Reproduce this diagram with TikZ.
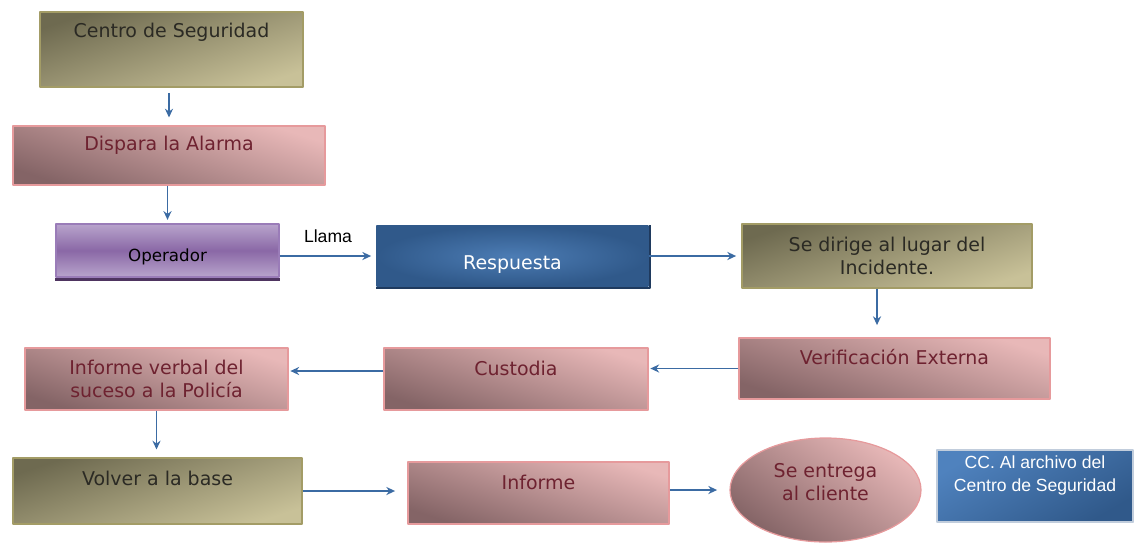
\documentclass[tikz,border=0pt]{standalone}
\usepackage{fontspec}
\setmainfont{DejaVu Sans}
\newfontfamily\arialfont{Liberation Sans}
\usetikzlibrary{shapes.geometric,arrows.meta}
\definecolor{olivedk}{HTML}{6E6A50}
\definecolor{olivelt}{HTML}{C8C198}
\definecolor{oliveln}{HTML}{A39C66}
\definecolor{pinkdk}{HTML}{846466}
\definecolor{pinklt}{HTML}{E8B8B8}
\definecolor{pinkln}{HTML}{E69A9C}
\definecolor{pinktxt}{HTML}{6E2230}
\definecolor{purpdk}{HTML}{8A68A6}
\definecolor{purplt}{HTML}{B8A4CC}
\definecolor{purpln}{HTML}{9A7CB8}
\definecolor{purpsh}{HTML}{4E3460}
\definecolor{bluemid}{HTML}{4C7CB4}
\definecolor{bluedk}{HTML}{30598A}
\definecolor{bluesh}{HTML}{1F3A5E}
\definecolor{bluelt}{HTML}{4F82BE}
\definecolor{arrblue}{HTML}{3B6BA3}
\definecolor{txtdk}{HTML}{2B2A24}
\def\px{0.02cm}
\tikzset{
  olivebox/.style={draw=oliveln, line width=0.7pt, top color=olivedk, bottom color=olivelt, shading angle=18, text=txtdk},
  pinkbox/.style={draw=pinkln, line width=0.7pt, top color=pinklt, bottom color=pinkdk, shading angle=-18, text=pinktxt},
  purplebox/.style={draw=purpln, line width=0.7pt, top color=purplt, bottom color=purplt, middle color=purpdk, text=black},
  bluebox/.style={draw=bluedk, line width=0.7pt, inner color=bluemid, outer color=bluedk, text=white},
  ccbox/.style={draw=white!70!bluedk, line width=0.7pt, top color=bluelt, bottom color=bluedk, shading angle=30, text=white},
  arr/.style={->, arrblue, line width=1.1pt, shorten >=3pt},
}
\begin{document}
\begin{tikzpicture}[x=\px, y=-\px, font=\fontsize{10.8}{13}\selectfont, line join=round, >={Stealth[length=5pt,width=4.6pt]}]
  \useasboundingbox (0,0) rectangle (1141,545);
  % cajas
  \node[olivebox, minimum width=263*\px, minimum height=75*\px] (cs) at (171.5,49.5) {};
  \node[text=txtdk] (cs-t) at (171.5,32) {Centro de Seguridad};
  \node[pinkbox, minimum width=312*\px, minimum height=59*\px] (alarma) at (169,155.5) {};
  \node[text=pinktxt] (alarma-t) at (169,145) {Dispara la Alarma};
  \node[purplebox, minimum width=223*\px, minimum height=53*\px] (oper) at (167.5,250.5) {};
  \draw[purpsh, line width=2pt] ([yshift=-1pt]oper.south west) -- ([yshift=-1pt]oper.south east);
  \node[font=\fontsize{9.5}{12}\selectfont] (oper-t) at (167.5,257) {Operador};
  \node[bluebox, minimum width=271*\px, minimum height=60*\px] (resp) at (512.5,256) {};
  \draw[bluesh, line width=1.5pt] ([xshift=0.8pt]resp.north east) |- ([yshift=-0.8pt]resp.south west);
  \node[text=white] (resp-t) at (512.5,265) {Respuesta};
  \node[olivebox, align=center, minimum width=290*\px, minimum height=64*\px] (lugar) at (887,256)
    {Se dirige al lugar del\\Incidente.};
  \node[pinkbox, minimum width=311*\px, minimum height=61*\px] (verif) at (894.5,368.5) {};
  \node[text=pinktxt] (verif-t) at (894.5,357) {Verificación Externa};
  \node[pinkbox, minimum width=264*\px, minimum height=62*\px] (cust) at (516,379) {};
  \node[text=pinktxt] (cust-t) at (516,368) {Custodia};
  \node[pinkbox, align=center, minimum width=263*\px, minimum height=62*\px] (verbal) at (156.5,379)
    {Informe verbal del\\suceso a la Policía};
  \node[olivebox, minimum width=289*\px, minimum height=66*\px] (volver) at (157.5,491) {};
  \node[text=txtdk] (volver-t) at (157.5,478) {Volver a la base};
  \node[pinkbox, minimum width=261*\px, minimum height=62*\px] (inf) at (538.5,493) {};
  \node[text=pinktxt] (inf-t) at (538.5,482) {Informe};
  \node[pinkbox, ellipse, shading angle=-35, minimum width=191*\px, minimum height=104*\px] (ell) at (825.5,490) {};
  \node[text=pinktxt, align=center] (ell-t) at (825.5,482) {Se entrega\\al cliente};
  \node[ccbox, minimum width=196*\px, minimum height=72*\px] (cc) at (1035,486) {};
  \node[text=white, align=center, font=\arialfont\fontsize{10}{13}\selectfont] (cc-t) at (1035,475.5)
    {CC. Al archivo del\\Centro de Seguridad};
  % flechas
  \draw[arr, shorten <=3pt, shorten >=4.5pt] (cs.south -| alarma) -- (alarma);
  \draw[arr, shorten >=2pt] (alarma.south -| oper) -- (oper);
  \draw[arr] (oper.east |- resp) -- (resp) node[midway, yshift=20*\px, text=black, font=\arialfont\fontsize{10}{12}\selectfont] (llama) {Llama};
  \draw[arr] (resp) -- (lugar);
  \draw[arr, shorten >=7pt] ([xshift=-10*\px]lugar.south) -- ([xshift=-10*\px]lugar.south |- verif.north);
  \draw[arr, shorten >=1pt] (verif.west) -- (verif.west -| cust.east);
  \draw[arr, shorten >=1pt] ([yshift=8*\px]cust.west) -- ([yshift=8*\px]cust.west -| verbal.east);
  \draw[arr, shorten >=4.5pt] (verbal.south) -- (verbal.south |- volver.north);
  \draw[arr, shorten >=7pt] (volver.east) -- (volver.east -| inf.west);
  \draw[arr, shorten >=7pt] (inf.east |- ell) -- (ell);
\end{tikzpicture}
\end{document}
